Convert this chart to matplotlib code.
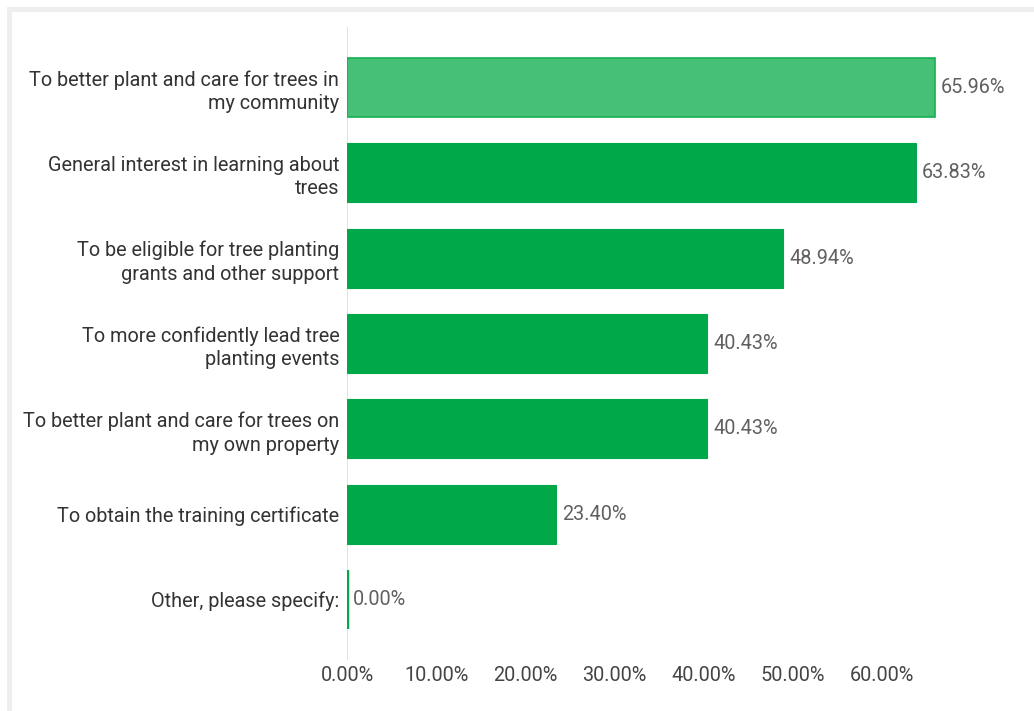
import matplotlib
matplotlib.use("Agg")
import matplotlib.pyplot as plt
from matplotlib.patches import Rectangle

categories = [
    "To better plant and care for trees in\nmy community",
    "General interest in learning about\ntrees",
    "To be eligible for tree planting\ngrants and other support",
    "To more confidently lead tree\nplanting events",
    "To better plant and care for trees on\nmy own property",
    "To obtain the training certificate",
    "Other, please specify:",
]
values = [65.96, 63.83, 48.94, 40.43, 40.43, 23.40, 0.00]
xticks = [0, 10, 20, 30, 40, 50, 60]
xtick_labels = ["0.00%", "10.00%", "20.00%", "30.00%", "40.00%", "50.00%", "60.00%"]

plt.rcParams['font.family'] = ['Roboto', 'DejaVu Sans']

W, H = 1034, 711
fig = plt.figure(figsize=(W / 100, H / 100), dpi=100)
fig.patch.set_facecolor("white")

# light gray frame strips (left and top)
fig.patches.append(Rectangle((7 / W, 0), 5 / W, 1 - 7 / H, transform=fig.transFigure,
                             facecolor="#eeeeee", edgecolor="none", zorder=0))
fig.patches.append(Rectangle((7 / W, 1 - 12 / H), 1 - 7 / W, 5 / H, transform=fig.transFigure,
                             facecolor="#eeeeee", edgecolor="none", zorder=0))

ax = fig.add_axes([347 / W, 1 - 660 / H, (971 - 347) / W, (660 - 27) / H])
ax.set_xlim(0, 70)
ax.set_ylim(6.71, -0.71)

FS = 14.3
ypos = list(range(len(categories)))
main_color = "#00a84a"
for i, (y, v) in enumerate(zip(ypos, values)):
    if i == 0:
        fc, ec, lw = "#45c076", "#14b050", 1.2
    else:
        fc, ec, lw = main_color, main_color, 0.8
    if v == 0:
        ax.barh(y, v, height=0.69, color=fc, edgecolor=ec, linewidth=3.2, zorder=3)
    else:
        ax.barh(y, v, height=0.69, color=fc, edgecolor=ec, linewidth=lw, zorder=3)
    ax.text(v + 0.7, y, f"{v:.2f}%", va="center", ha="left", fontsize=FS,
            color="#606060", zorder=4)

ax.set_yticks(ypos)
ax.set_yticklabels(categories, fontsize=FS, color="#333333", linespacing=1.3)
ax.set_xticks(xticks)
ax.set_xticklabels(xtick_labels, fontsize=FS, color="#444444")
ax.tick_params(axis="both", length=0)
ax.tick_params(axis="y", pad=5.5)
ax.tick_params(axis="x", pad=4.5)
for s in ax.spines.values():
    s.set_visible(False)
ax.axvline(0, color="#dddddd", linewidth=1.2, zorder=1)

fig.savefig("out.png", dpi=100, facecolor="white")
